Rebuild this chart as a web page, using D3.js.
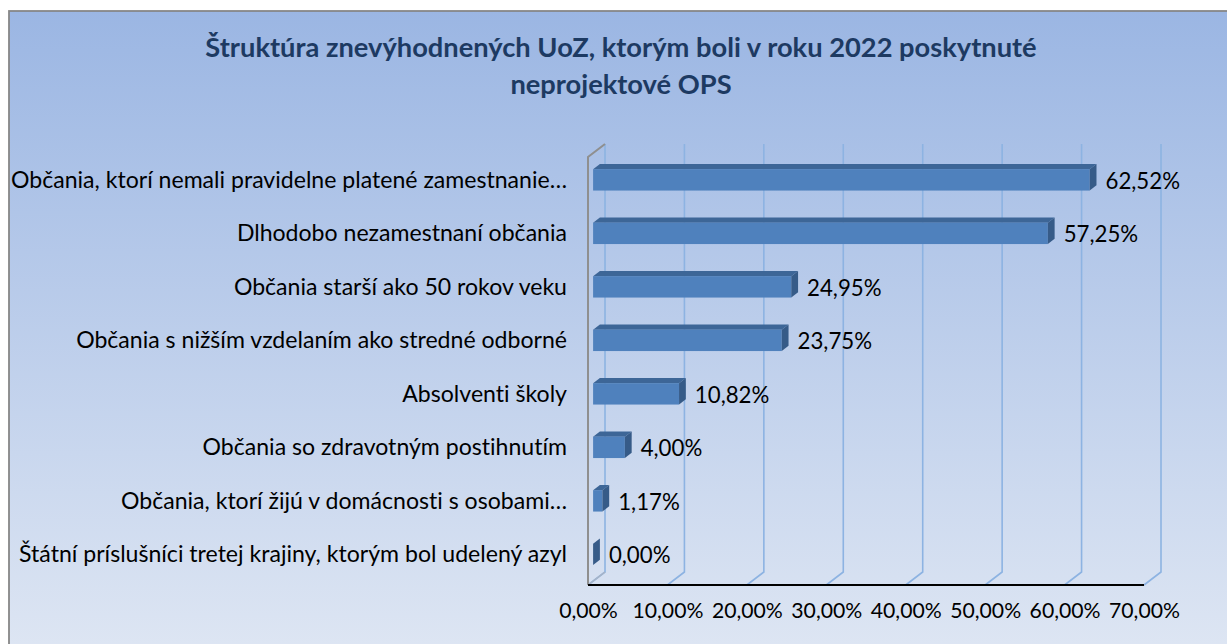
<!DOCTYPE html>
<html>
<head>
<meta charset="utf-8">
<script src="https://cdn.jsdelivr.net/npm/d3@7"></script>
<style>
  html, body { margin: 0; padding: 0; background: #ffffff; }
  svg { display: block; }
  text { font-variant-ligatures: none; font-feature-settings: "liga" 0, "clig" 0; }
</style>
</head>
<body>
<svg id="chart" width="1227" height="644"></svg>
<script>
// ---------- data ----------
const titleLines = ["Štruktúra znevýhodnených UoZ, ktorým boli v roku 2022 poskytnuté", "neprojektové OPS"];
const categories = [
  "Občania, ktorí nemali pravidelne platené zamestnanie…",
  "Dlhodobo nezamestnaní občania",
  "Občania starší ako 50 rokov veku",
  "Občania s nižším vzdelaním ako stredné odborné",
  "Absolventi školy",
  "Občania so zdravotným postihnutím",
  "Občania, ktorí žijú v domácnosti s osobami…",
  "Štátní príslušníci tretej krajiny, ktorým bol udelený azyl"
];
const values = [0.6252, 0.5725, 0.2495, 0.2375, 0.1082, 0.0400, 0.0117, 0.0000];
const xTicks = [0, 0.1, 0.2, 0.3, 0.4, 0.5, 0.6, 0.7];

// ---------- setup ----------
const svg = d3.select("#chart");
const W = 1227, H = 644;
const FONT = "Lato, 'Open Sans', sans-serif";
const locale = d3.formatLocale({decimal: ",", thousands: " ", grouping: [3], currency: ["", " €"], percent: "%"});
const fmt = locale.format(".2%");

function measure(text, size, weight) {
  const t = svg.append("text").attr("font-family", FONT).attr("font-size", size)
    .attr("font-weight", weight).text(text);
  const w = t.node().getComputedTextLength();
  t.remove();
  return w;
}
function fitSize(text, target, weight) {
  return 20 * target / measure(text, 20, weight);
}
const titleSize = fitSize(titleLines[0], 832, "bold");
const catSize = fitSize(categories[7], 548, "normal");
const numSize = fitSize("10,00%", 71, "normal");

// background
const defs = svg.append("defs");
const grad = defs.append("linearGradient").attr("id", "bg").attr("x1", 0).attr("y1", 0).attr("x2", 0).attr("y2", 1);
grad.append("stop").attr("offset", "0%").attr("stop-color", "#9bb6e3");
grad.append("stop").attr("offset", "100%").attr("stop-color", "#dee6f3");
svg.append("rect").attr("x", 9).attr("y", 11).attr("width", W).attr("height", H)
  .attr("fill", "url(#bg)").attr("stroke", "#878787").attr("stroke-width", 1.8);

// title
const title = svg.append("text").attr("font-family", FONT).attr("font-weight", "bold")
  .attr("font-size", titleSize).attr("fill", "#1d3a62").attr("text-anchor", "middle");
title.selectAll("tspan").data(titleLines).join("tspan")
  .attr("x", 621).attr("y", (d, i) => 57 + i * 37).text(d => d);

// scales (front plane) and depth offsets
const x = d3.scaleLinear().domain([0, 0.7]).range([588, 1144]);
const y = d3.scaleBand().domain(categories).range([157, 585]).paddingInner(0.6).paddingOuter(0.3);
const DX = 17, DY = -13;
const ox = d => DX * d, oy = d => DY * d;
const d1 = 0.3, d2 = 0.7;

const plot = svg.append("g");

// gridlines on back wall + floor
xTicks.forEach(t => {
  const xb = x(t) + DX;
  plot.append("path")
    .attr("d", `M${xb},${157 + DY} L${xb},${585 + DY} L${x(t)},585`)
    .attr("fill", "none").attr("stroke", "#8db3e2").attr("stroke-width", 1.6);
});

// left wall
plot.append("path")
  .attr("d", `M${x(0) + DX},${157 + DY} L${x(0)},157 L${x(0)},585`)
  .attr("fill", "none").attr("stroke", "#8f8f8f").attr("stroke-width", 2);
plot.append("path")
  .attr("d", `M${x(0) + DX},${585 + DY} L${x(0)},585`)
  .attr("fill", "none").attr("stroke", "#a9b4c4").attr("stroke-width", 1.5);
// floor front edge
plot.append("line").attr("x1", x(0)).attr("x2", x(0.7)).attr("y1", 585).attr("y2", 585)
  .attr("stroke", "#000").attr("stroke-width", 2);

// bars
const data = categories.map((c, i) => ({c, v: values[i]}));
const bars = plot.selectAll("g.bar").data(data).join("g").attr("class", "bar");
bars.append("path").attr("fill", "#3d6697")
  .attr("d", d => {
    const y0 = y(d.c), x0 = x(0), x1 = x(d.v);
    return `M${x0 + ox(d1)},${y0 + oy(d1)} L${x0 + ox(d2)},${y0 + oy(d2)} L${x1 + ox(d2)},${y0 + oy(d2)} L${x1 + ox(d1)},${y0 + oy(d1)} Z`;
  });
bars.append("rect").attr("fill", "#4f81bd")
  .attr("x", d => x(0) + ox(d1)).attr("y", d => y(d.c) + oy(d1))
  .attr("width", d => x(d.v) - x(0)).attr("height", y.bandwidth());
bars.append("path").attr("fill", "#365b88")
  .attr("d", d => {
    const y0 = y(d.c), y1 = y0 + y.bandwidth(), x1 = x(d.v);
    return `M${x1 + ox(d1)},${y0 + oy(d1)} L${x1 + ox(d2)},${y0 + oy(d2)} L${x1 + ox(d2)},${y1 + oy(d2)} L${x1 + ox(d1)},${y1 + oy(d1)} Z`;
  });

// data labels
bars.append("text").attr("font-family", FONT).attr("font-size", numSize * 1.05).attr("fill", "#000")
  .attr("x", d => x(d.v) + ox(d2) + 9)
  .attr("y", d => y(d.c) + oy(d1) + y.bandwidth() / 2 + 1)
  .attr("dy", "0.35em")
  .text(d => fmt(d.v));

// category labels
svg.append("g").selectAll("text").data(categories).join("text")
  .attr("font-family", FONT).attr("font-size", catSize).attr("fill", "#000")
  .attr("text-anchor", "end").attr("x", 567)
  .attr("y", d => y(d) + oy(d1) + y.bandwidth() / 2).attr("dy", "0.35em")
  .text(d => d);

// x axis labels
const axis = d3.axisBottom(x).tickValues(xTicks).tickFormat(fmt).tickSize(0).tickPadding(0);
const ax = svg.append("g").attr("transform", "translate(0,600)").call(axis);
ax.select(".domain").remove();
ax.selectAll("text").attr("font-family", FONT).attr("font-size", numSize).attr("fill", "#000")
  .attr("dy", "0.85em");
</script>
</body>
</html>
